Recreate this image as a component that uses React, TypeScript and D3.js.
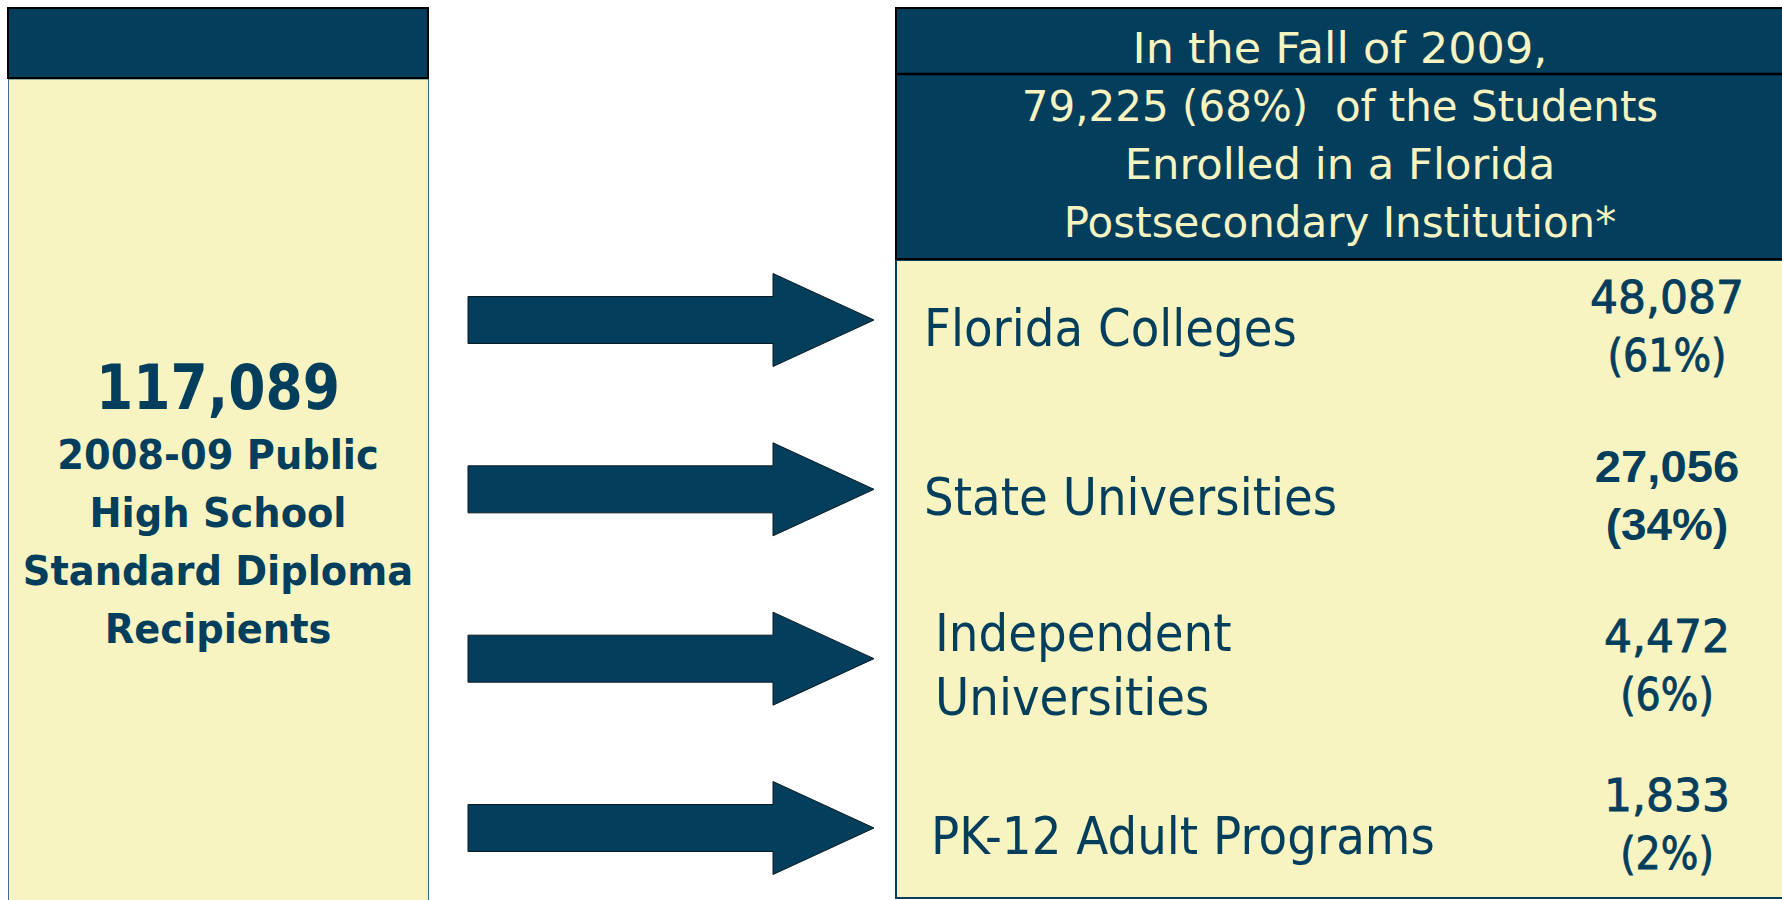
import React from "react";
import * as d3 from "d3";

// ---------- data ----------
const totalGraduates = 117089;
const cohortLabel = ["2008-09 Public", "High School", "Standard Diploma", "Recipients"];
const enrolledTotal = 79225;
const enrolledShare = 68;
const fallTerm = "In the Fall of 2009,";
const destinations = ["Florida Colleges", "State Universities", "Independent Universities", "PK-12 Adult Programs"];
const destinationLines = [["Florida Colleges"], ["State Universities"], ["Independent", "Universities"], ["PK-12 Adult Programs"]];
const counts = [48087, 27056, 4472, 1833];
const shares = [61, 34, 6, 2];

// ---------- style / layout ----------
const W = 1782;
const H = 900;
const NAVY = "#033e5d";
const CREAM = "#f7f4c2";
const FONT = "'DejaVu Sans', Verdana, sans-serif";
const BOLD_NUM_FONT = "'Liberation Sans', Arial, sans-serif";
const emphasizedRow = 1;
const labelIndent = [0, 0, 11, 7];
const valueShift = [0, 0, 0, -10];
const headerStretch = [1.06, 1, 1.03, 1];

const fmt = d3.format(",");

export default function App() {
  const rowY = d3.scalePoint<string>().domain(destinations).range([320, 828]);

  const arrowPath = (cy: number) => {
    const p = d3.path();
    const x0 = 468, x1 = 773, tip = 874, sh = 23.5, hh = 46.5;
    p.moveTo(x0, cy - sh);
    p.lineTo(x1, cy - sh);
    p.lineTo(x1, cy - hh);
    p.lineTo(tip, cy);
    p.lineTo(x1, cy + hh);
    p.lineTo(x1, cy + sh);
    p.lineTo(x0, cy + sh);
    p.closePath();
    return p.toString();
  };

  const headerLines = [
    fallTerm,
    `${fmt(enrolledTotal)} (${enrolledShare}%)  of the Students`,
    "Enrolled in a Florida",
    "Postsecondary Institution*",
  ];
  const headerBaselines = d3.range(headerLines.length).map((i) => 63 + i * 58);

  const leftCx = 218;

  return (
    <svg
      width={W}
      height={H}
      viewBox={`0 0 ${W} ${H}`}
      style={{ position: "absolute", left: 0, top: 0, display: "block", background: "#ffffff" }}
    >
      {/* Left box */}
      <rect x={8.5} y={79} width={420} height={840} fill={CREAM} stroke="#3d6a85" strokeWidth={1} />
      <rect x={8} y={8} width={420} height={70} fill={NAVY} stroke="#000" strokeWidth={2} />
      <text
        transform={`translate(${leftCx},409) scale(0.85,1)`}
        textAnchor="middle"
        fontFamily={FONT}
        fontWeight="bold"
        fontSize={63}
        fill={NAVY}
      >
        {fmt(totalGraduates)}
      </text>
      {cohortLabel.map((t, i) => (
        <text
          key={t}
          transform={`translate(${leftCx},${469 + i * 58}) scale(0.96,1)`}
          textAnchor="middle"
          fontFamily={FONT}
          fontWeight="bold"
          fontSize={40}
          fill={NAVY}
        >
          {t}
        </text>
      ))}

      {/* Right box */}
      <rect x={896} y={260} width={900} height={638} fill={CREAM} stroke={NAVY} strokeWidth={2} />
      <rect x={896} y={8} width={900} height={251} fill={NAVY} stroke="#000" strokeWidth={2} />
      <line x1={896} x2={W} y1={74} y2={74} stroke="#000" strokeWidth={2.5} />
      {headerLines.map((t, i) => (
        <text
          key={i}
          transform={`translate(1340,${headerBaselines[i]}) scale(${headerStretch[i]},1)`}
          textAnchor="middle"
          fontFamily={FONT}
          fontSize={42}
          fill={CREAM}
          style={{ whiteSpace: "pre" }}
        >
          {t}
        </text>
      ))}

      {/* Arrows */}
      {destinations.map((d) => (
        <path key={d} d={arrowPath(rowY(d) as number)} fill={NAVY} stroke="#0a1a22" strokeWidth={1} />
      ))}

      {/* Rows */}
      {destinations.map((d, i) => {
        const cy = rowY(d) as number;
        const lines = destinationLines[i];
        const lx = 924 + labelIndent[i];
        const baseY = lines.length === 1 ? cy + 26 : cy - 8;
        const bold = i === emphasizedRow;
        const vy = cy + valueShift[i];
        return (
          <g key={d}>
            {lines.map((ln, j) => (
              <text
                key={ln}
                transform={`translate(${lx},${baseY + j * 64}) scale(0.9,1)`}
                fontFamily={FONT}
                fontSize={52}
                fill={NAVY}
              >
                {ln}
              </text>
            ))}
            <text
              transform={`translate(1667,${vy - 7}) scale(${bold ? 1.05 : 1},1)`}
              textAnchor="middle"
              fontFamily={bold ? BOLD_NUM_FONT : FONT}
              fontWeight={bold ? "bold" : "normal"}
              fontSize={bold ? 45 : 44}
              fill={NAVY}
              stroke={bold ? "none" : NAVY}
              strokeWidth={0.9}
            >
              {fmt(counts[i])}
            </text>
            <text
              transform={`translate(1667,${vy + 51}) scale(${bold ? 1.02 : 0.9},1)`}
              textAnchor="middle"
              fontFamily={bold ? BOLD_NUM_FONT : FONT}
              fontWeight={bold ? "bold" : "normal"}
              fontSize={bold ? 45 : 44}
              fill={NAVY}
              stroke={bold ? "none" : NAVY}
              strokeWidth={0.9}
            >
              {`(${shares[i]}%)`}
            </text>
          </g>
        );
      })}
    </svg>
  );
}
